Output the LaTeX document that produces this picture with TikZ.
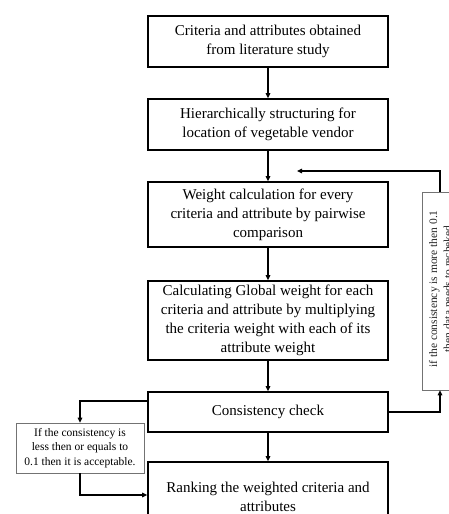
\documentclass[tikz,border=0pt]{standalone}
\usepackage{fontspec}
\setmainfont{Liberation Serif}
\usetikzlibrary{arrows.meta}
\begin{document}
\begin{tikzpicture}[x=1pt,y=-1pt,
  mainbox/.style={draw=black, line width=1.6pt, minimum width=240pt, align=center,
    font=\fontsize{15}{19}\selectfont, inner sep=0pt},
  sidebox/.style={draw=black!55, line width=0.6pt, align=center,
    font=\fontsize{11.5}{14.5}\selectfont, inner sep=0pt},
  sidetext/.style={align=center, font=\fontsize{11.5}{14.5}\selectfont, inner sep=0pt, text=black!85},
  flow/.style={line width=1.2pt, -{Triangle[length=5pt,width=4.5pt]}},
]
\useasboundingbox (0,0) rectangle (449,514);
\clip (0,0) rectangle (449,514);
\node[mainbox, minimum height=51pt] (b1) at (268,41.5) {Criteria and attributes obtained\\from literature study};
\node[mainbox, minimum height=51pt] (b2) at (268,124.5) {Hierarchically structuring for\\location of vegetable vendor};
\node[mainbox, minimum height=65pt] (b3) at (268,214.5) {Weight calculation for every\\criteria and attribute by pairwise\\comparison};
\node[mainbox, minimum height=79pt] (b4) at (268,320.5) {Calculating Global weight for each\\criteria and attribute by multiplying\\the criteria weight with each of its\\attribute weight};
\node[mainbox, minimum height=40pt] (b5) at (268,412) {Consistency check};
\node[mainbox, minimum height=66pt] (b6) at (268,495) {};
\node[mainbox, draw=none, minimum width=0pt] (t6) at (268,497) {Ranking the weighted criteria and\\attributes};
\node[sidebox, minimum width=128pt, minimum height=50pt] (lb) at (80,448) {If the consistency is\\less then or equals to\\0.1 then it is acceptable.};
\node[sidebox, minimum width=55pt, minimum height=197.5pt] (rb) at (449.5,291.25) {};
\node[sidetext, rotate=90] (rt) at (440.5,289) {if the consistency is more then 0.1\\then data needs to recheked};
\coordinate (fb) at (297,171);
\draw[flow] (b1) -- (b2);
\draw[flow] (b2) -- (b3);
\draw[flow] (b3) -- (b4);
\draw[flow] (b4) -- (b5);
\draw[flow] (b5) -- (b6);
\draw[flow] ([yshift=11pt]b5.west) -| (lb.north);
\draw[flow] (lb.south) |- (b6.west);
\draw[flow] (b5.east) -| ([xshift=-9.5pt]rb.south);
\draw[flow] ([xshift=-9.5pt]rb.north) |- (fb);
\end{tikzpicture}
\end{document}
